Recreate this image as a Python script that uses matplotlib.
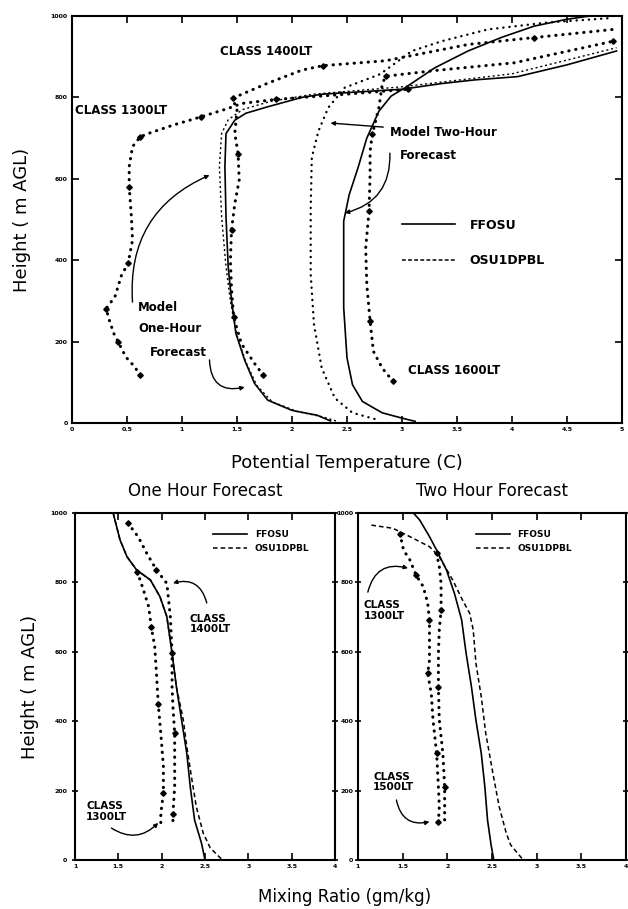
import matplotlib
matplotlib.use("Agg")
import matplotlib.pyplot as plt
from matplotlib.lines import Line2D

# ---- top panel: potential temperature (C) vs height (m AGL) ----
class1300_th = [0.62, 0.57, 0.49, 0.42, 0.38, 0.34, 0.31, 0.39, 0.45, 0.51, 0.55, 0.54, 0.52,
                0.52, 0.55, 0.62, 0.69, 0.92, 1.17, 1.42, 1.54, 1.85, 2.1, 2.5, 3.05]
class1300_z = [117, 138, 162, 199, 220, 252, 281, 310, 363, 392, 449, 507, 580,
               630, 679, 703, 711, 732, 752, 773, 785, 795, 800, 808, 820]

class1400_th = [1.74, 1.66, 1.54, 1.47, 1.45, 1.44, 1.45, 1.48, 1.52, 1.51, 1.48, 1.50, 1.46,
                1.78, 2.09, 2.28, 2.85, 3.6, 4.2, 4.92]
class1400_z = [117, 146, 195, 260, 330, 400, 474, 539, 597, 662, 711, 769, 798,
               835, 867, 878, 890, 930, 947, 967]

class1600_th = [2.92, 2.82, 2.74, 2.71, 2.68, 2.67, 2.70, 2.71, 2.71, 2.73, 2.79, 2.82, 2.85,
                3.3, 4.02, 4.92]
class1600_z = [102, 135, 176, 250, 340, 430, 520, 611, 668, 709, 775, 832, 852,
               866, 885, 938]

ffosu_1h_th = [2.35, 2.23, 2.0, 1.78, 1.66, 1.57, 1.49, 1.45, 1.42, 1.40, 1.39, 1.40, 1.48,
               1.58, 1.78, 2.09, 2.28, 3.0, 3.36, 3.66, 4.05, 4.5, 4.95]
ffosu_1h_z = [5, 19, 31, 56, 97, 154, 220, 302, 384, 507, 630, 711, 744,
              761, 777, 800, 808, 820, 834, 843, 851, 880, 914]

osu_1h_th = [2.4, 2.28, 2.05, 1.82, 1.68, 1.58, 1.50, 1.44, 1.40, 1.36, 1.34, 1.36, 1.42,
             1.55, 1.8, 2.2, 3.0, 4.0, 4.95]
osu_1h_z = [5, 15, 28, 52, 92, 150, 215, 300, 384, 507, 630, 711, 745,
            770, 790, 808, 826, 858, 922]

ffosu_2h_th = [3.12, 3.0, 2.82, 2.64, 2.55, 2.50, 2.47, 2.47, 2.52, 2.60, 2.68, 2.79, 2.90,
               3.03, 3.30, 3.60, 3.90, 4.20, 4.50, 4.71]
ffosu_2h_z = [4, 12, 25, 53, 94, 160, 283, 496, 561, 627, 700, 766, 803,
              824, 873, 914, 947, 975, 992, 1000]

osu_2h_th = [2.75, 2.55, 2.39, 2.27, 2.20, 2.17, 2.17, 2.18, 2.24, 2.33, 2.48, 2.80, 3.09,
             3.36, 3.78, 4.32, 4.9]
osu_2h_z = [10, 25, 61, 135, 242, 365, 529, 652, 717, 775, 824, 857, 914,
            938, 967, 984, 995]

th_ticks = [0, 0.5, 1, 1.5, 2, 2.5, 3, 3.5, 4, 4.5, 5]
th_ticklabels = ["0", "0.5", "1", "1.5", "2", "2.5", "3", "3.5", "4", "4.5", "5"]
z_ticks = [0, 200, 400, 600, 800, 1000]

# ---- bottom panels: mixing ratio (gm/kg) vs height ----
q_ffosu_1h = [1.44, 1.52, 1.60, 1.71, 1.87, 1.98, 2.06, 2.12, 2.17, 2.23, 2.29, 2.33, 2.38, 2.46, 2.50]
q_ffosu_1h_z = [1000, 922, 874, 836, 807, 759, 701, 596, 499, 403, 307, 211, 115, 48, 0]
q_osu_1h = [1.44, 1.52, 1.60, 1.71, 1.87, 1.98, 2.06, 2.12, 2.17, 2.25, 2.29, 2.35, 2.40, 2.48, 2.56, 2.70]
q_osu_1h_z = [1000, 922, 874, 836, 807, 759, 701, 596, 499, 403, 326, 230, 153, 77, 35, 0]
q_class1400 = [1.61, 1.73, 1.83, 1.94, 2.06, 2.10, 2.12, 2.12, 2.13, 2.15, 2.15, 2.15, 2.13, 2.13]
q_class1400_z = [971, 931, 883, 836, 797, 701, 596, 499, 442, 365, 288, 211, 134, 105]
q_class1300a = [1.72, 1.79, 1.85, 1.88, 1.92, 1.94, 1.96, 1.99, 2.02, 2.02, 1.99, 1.99]
q_class1300a_z = [830, 778, 730, 672, 615, 538, 451, 365, 269, 192, 134, 105]

q_ffosu_2h = [1.62, 1.69, 1.80, 1.88, 1.99, 2.08, 2.16, 2.21, 2.27, 2.32, 2.38, 2.42, 2.45, 2.49, 2.52]
q_ffosu_2h_z = [1000, 980, 932, 893, 836, 768, 692, 596, 499, 403, 307, 211, 115, 43, 0]
q_osu_2h = [1.15, 1.39, 1.58, 1.80, 1.91, 2.06, 2.17, 2.25, 2.29, 2.32, 2.38, 2.43, 2.51, 2.58, 2.66, 2.71, 2.85]
q_osu_2h_z = [965, 956, 932, 903, 874, 807, 749, 711, 663, 567, 470, 365, 250, 154, 77, 43, 0]
q_class1300b = [1.47, 1.51, 1.58, 1.65, 1.73, 1.78, 1.80, 1.80, 1.80, 1.78, 1.82, 1.84, 1.88, 1.90, 1.91, 1.90]
q_class1300b_z = [940, 893, 865, 821, 788, 740, 692, 634, 576, 538, 480, 403, 307, 211, 154, 110]
q_class1500 = [1.88, 1.91, 1.93, 1.93, 1.91, 1.90, 1.90, 1.91, 1.95, 1.97, 1.97, 1.97]
q_class1500_z = [884, 845, 797, 720, 663, 596, 499, 403, 307, 211, 144, 110]

q_ticks = [1, 1.5, 2, 2.5, 3, 3.5, 4]
q_ticklabels = ["1", "1.5", "2", "2.5", "3", "3.5", "4"]

W, H = 628, 909
DOT = dict(color="black", linestyle=(0, (0.1, 2.2)), linewidth=2.2, dash_capstyle="round",
           marker="D", markersize=2.8, markevery=3)
SOLID = dict(color="black", linewidth=1.2)
DASH = dict(color="black", linewidth=1.1, linestyle=(0, (3, 2)))
TXT = dict(fontsize=8.5, fontweight="bold", color="black")


def px_axes(x0, y0, x1, y1):
    # pixel box (top-left origin) -> figure fraction rect
    return [x0 / W, 1 - y1 / H, (x1 - x0) / W, (y1 - y0) / H]


def style_axes(ax, yout=False, ypad=3):
    for sp in ax.spines.values():
        sp.set_linewidth(1.5)
    ax.tick_params(axis="x", direction="in", top=True, length=5, width=1.2, labelsize=4.5, pad=3)
    ax.tick_params(axis="y", direction="inout" if yout else "in", right=True, length=5, width=1.2,
                   labelsize=4.5, pad=ypad)
    for lab in ax.get_xticklabels() + ax.get_yticklabels():
        lab.set_fontweight("bold")


def arrow(ax, xy_from, xy_to, rad):
    ax.annotate("", xy=xy_to, xytext=xy_from,
                arrowprops=dict(arrowstyle="-|>", color="black", lw=1.0, mutation_scale=6,
                                shrinkA=0, shrinkB=0, connectionstyle=f"arc3,rad={rad}"))


fig = plt.figure(figsize=(W / 100, H / 100), dpi=100)

# ---------------- top panel ----------------
ax = fig.add_axes(px_axes(72, 16, 622, 423))
ax.plot(class1300_th, class1300_z, **DOT)
ax.plot(class1400_th, class1400_z, **DOT)
ax.plot(class1600_th, class1600_z, **DOT)
ax.plot(osu_1h_th, osu_1h_z, color="black", linewidth=1.0, linestyle=(0, (1.5, 2)))
ax.plot(osu_2h_th, osu_2h_z, color="black", linewidth=1.7, linestyle=(0, (0.1, 2.5)),
        dash_capstyle="round")
ax.plot(ffosu_1h_th, ffosu_1h_z, **SOLID)
ax.plot(ffosu_2h_th, ffosu_2h_z, **SOLID)
ax.set_xlim(0, 5)
ax.set_ylim(0, 1000)
ax.set_xticks(th_ticks)
ax.set_xticklabels(th_ticklabels)
ax.set_yticks(z_ticks)
style_axes(ax)
ax.set_ylabel("Height ( m AGL)", fontsize=13, labelpad=14)
ax.set_xlabel("Potential Temperature (C)", fontsize=13, labelpad=16)

ax.text(1.35, 912, "CLASS 1400LT", **TXT, va="center")
ax.text(0.03, 769, "CLASS 1300LT", **TXT, va="center")
ax.text(3.05, 128, "CLASS 1600LT", **TXT, va="center")
ax.text(0.6, 285, "Model", **TXT, va="center")
ax.text(0.6, 231, "One-Hour", **TXT, va="center")
ax.text(0.71, 174, "Forecast", **TXT, va="center")
ax.text(2.89, 713, "Model Two-Hour", **TXT, va="center")
ax.text(2.98, 658, "Forecast", **TXT, va="center")
arrow(ax, (0.55, 297), (1.25, 609), -0.35)
arrow(ax, (1.25, 155), (1.57, 88), 0.6)
arrow(ax, (2.83, 727), (2.35, 737), 0.0)
arrow(ax, (2.89, 663), (2.48, 516), -0.4)

handles = [Line2D([], [], **SOLID), Line2D([], [], color="black", linewidth=1.1, linestyle=(0, (2.5, 1.5)))]
ax.legend(handles, ["FFOSU", "OSU1DPBL"], loc="upper left", bbox_to_anchor=(0.58, 0.53),
          frameon=False, handlelength=4.2, labelspacing=1.8, handletextpad=1.2,
          prop={"size": 9, "weight": "bold"})

# ---------------- bottom panels ----------------
panels = [
    (px_axes(75, 513, 335, 860), "One Hour Forecast",
     [(q_class1300a, q_class1300a_z), (q_class1400, q_class1400_z)],
     (q_ffosu_1h, q_ffosu_1h_z), (q_osu_1h, q_osu_1h_z), 0.5, 3),
    (px_axes(358, 513, 626, 860), "Two Hour Forecast",
     [(q_class1300b, q_class1300b_z), (q_class1500, q_class1500_z)],
     (q_ffosu_2h, q_ffosu_2h_z), (q_osu_2h, q_osu_2h_z), 0.41, 1),
]
bax = []
for rect, title, obs, ff, osu, leg_x, ypad in panels:
    a = fig.add_axes(rect)
    for qx, qz in obs:
        a.plot(qx, qz, **DOT)
    a.plot(osu[0], osu[1], **DASH)
    a.plot(ff[0], ff[1], **SOLID)
    a.set_xlim(1, 4)
    a.set_ylim(0, 1000)
    a.set_xticks(q_ticks)
    a.set_xticklabels(q_ticklabels)
    a.set_yticks(z_ticks)
    style_axes(a, yout=True, ypad=ypad)
    a.set_title(title, fontsize=12, pad=12)
    a.legend([Line2D([], [], **SOLID), Line2D([], [], **DASH)], ["FFOSU", "OSU1DPBL"],
             loc="upper left", bbox_to_anchor=(leg_x, 0.975), frameon=False,
             handlelength=3.8, labelspacing=0.6, handletextpad=0.8,
             prop={"size": 6.5, "weight": "bold"})
    bax.append(a)

a1, a2 = bax
a1.set_ylabel("Height ( m AGL)", fontsize=13, labelpad=8)
a1.text(2.32, 680, "CLASS\n1400LT", **dict(TXT, fontsize=7.5), va="center", linespacing=1.1)
arrow(a1, (2.52, 741), (2.13, 798), 0.5)
a1.text(1.13, 140, "CLASS\n1300LT", **dict(TXT, fontsize=7.5), va="center", linespacing=1.1)
arrow(a1, (1.42, 92), (1.96, 107), 0.4)

a2.text(1.06, 718, "CLASS\n1300LT", **dict(TXT, fontsize=7.5), va="center", linespacing=1.1)
arrow(a2, (1.11, 772), (1.56, 841), -0.5)
a2.text(1.17, 225, "CLASS\n1500LT", **dict(TXT, fontsize=7.5), va="center", linespacing=1.1)
arrow(a2, (1.43, 173), (1.8, 110), 0.5)

fig.text(345 / W, 1 - 897 / H, "Mixing Ratio (gm/kg)", fontsize=12, ha="center", va="center")

fig.savefig("out.png", dpi=100)
